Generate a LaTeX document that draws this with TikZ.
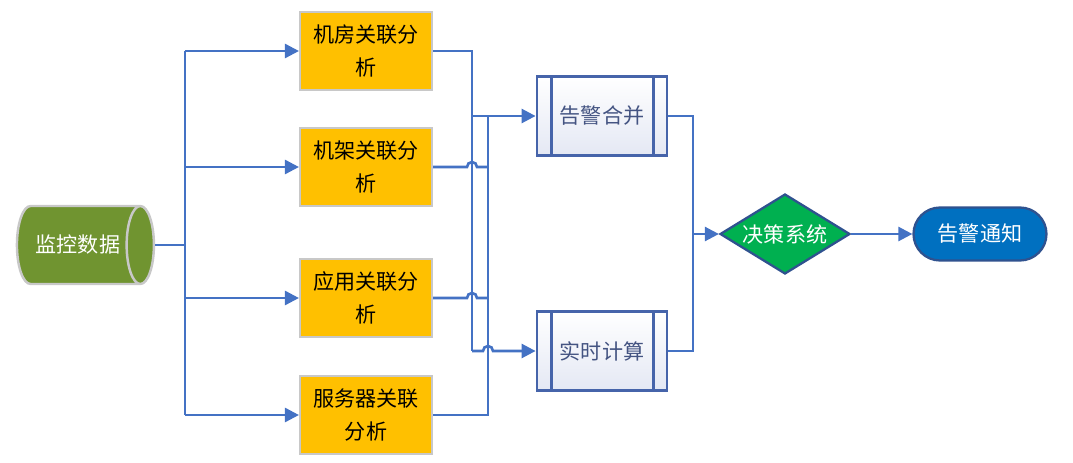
\documentclass[tikz,border=0pt]{standalone}
\usepackage{fontspec}
\setmainfont{Noto Sans CJK SC}
\usetikzlibrary{shapes.geometric, arrows.meta, positioning}
\definecolor{linkblue}{RGB}{68, 114, 196}
\definecolor{srcgreen}{RGB}{112, 148, 48}
\definecolor{srcedge}{RGB}{200, 200, 200}
\definecolor{boxgold}{RGB}{255, 192, 0}
\definecolor{boxedge}{RGB}{200, 200, 200}
\definecolor{procedge}{RGB}{70, 100, 170}
\definecolor{proctext}{RGB}{68, 84, 130}
\definecolor{procfill}{RGB}{228, 232, 244}
\definecolor{decgreen}{RGB}{0, 176, 80}
\definecolor{darkblue}{RGB}{47, 82, 143}
\definecolor{notifyblue}{RGB}{0, 112, 192}

\begin{document}
\begin{tikzpicture}[x=0.02cm, y=0.02cm, font=\fontsize{12}{19}\selectfont]
    \tikzstyle{wire} = [line width=1.5pt, color=linkblue]
    \tikzstyle{arr}  = [wire, -{Triangle[length=8pt, width=8pt]}]
    \tikzstyle{src}  = [cylinder, shape aspect=1.4, minimum width=1.56cm,
                        minimum height=2.74cm, cylinder uses custom fill,
                        cylinder body fill=srcgreen, cylinder end fill=srcgreen,
                        draw=srcedge, line width=1.4pt, text=white, inner sep=0pt]
    \tikzstyle{ana}  = [rectangle, minimum width=2.64cm, minimum height=1.56cm,
                        fill=boxgold, draw=boxedge, line width=1.2pt,
                        align=center, text=black]
    \tikzstyle{proc} = [rectangle, minimum width=2.6cm, minimum height=1.58cm,
                        top color=white, bottom color=procfill,
                        draw=procedge, line width=1.6pt, text=proctext]
    \tikzstyle{dec}  = [diamond, aspect=1.625, minimum width=2.6cm, minimum height=1.6cm,
                        inner sep=0pt, fill=decgreen, draw=darkblue,
                        line width=1.3pt, text=white]
    \tikzstyle{term} = [rectangle, rounded corners=0.53cm, minimum width=2.66cm,
                        minimum height=1.06cm, fill=notifyblue, draw=darkblue,
                        line width=1.3pt, text=white]

    \useasboundingbox (0,0) rectangle (1073,-463);

    \node[src]  (data)  at (78,-245)  {监控数据};

    \node[ana]  (room)  at (366,-51)  {机房关联分\\析};
    \node[ana]  (rack)  at (366,-167) {机架关联分\\析};
    \node[ana]  (app)   at (366,-298) {应用关联分\\析};
    \node[ana]  (srv)   at (366,-415) {服务器关联\\分析};

    \node[proc] (merge) at (602,-116) {告警合并};
    \node[proc] (calc)  at (602,-351) {实时计算};
    \foreach \p in {merge, calc} {
        \draw[procedge, line width=1.6pt] ([xshift=0.32cm]\p.north west) -- ([xshift=0.32cm]\p.south west);
        \draw[procedge, line width=1.6pt] ([xshift=-0.3cm]\p.north east) -- ([xshift=-0.3cm]\p.south east);
    }

    \node[dec]  (decide) at (785,-234) {决策系统};
    \node[term] (notify) at (980,-234) {告警通知};

    % fan out
    \coordinate (bus) at (185,0);
    \draw[wire] (data.east) -- (data.east -| bus);
    \draw[wire] (room.west -| bus) -- (srv.west -| bus);
    \foreach \b in {room, rack, app, srv}
        \draw[arr] (\b.west -| bus) -- (\b.west);

    % collect
    \coordinate (ja) at (472,0);
    \coordinate (jb) at (488,0);
    \draw[wire] (room.east) -| (calc.west -| ja);
    \draw[arr] (calc.west -| ja) -- ([xshift=-0.1cm]calc.west -| jb)
        arc (180:0:0.1cm) -- (calc.west);
    \draw[arr] (merge.west -| ja) -- (merge.west);
    \foreach \b in {rack, app}
        \draw[wire] (\b.east) -- ([xshift=-0.1cm]\b.east -| ja)
            arc (180:0:0.1cm) -- (\b.east -| jb);
    \draw[wire] (srv.east) -| (merge.west -| jb);

    % decide
    \coordinate (jc) at (693,0);
    \draw[wire] (merge.east) -| (decide.west -| jc);
    \draw[wire] (calc.east) -| (decide.west -| jc);
    \draw[arr] (decide.west -| jc) -- (decide.west);
    \draw[arr] (decide.east) -- (notify.west);
\end{tikzpicture}
\end{document}
